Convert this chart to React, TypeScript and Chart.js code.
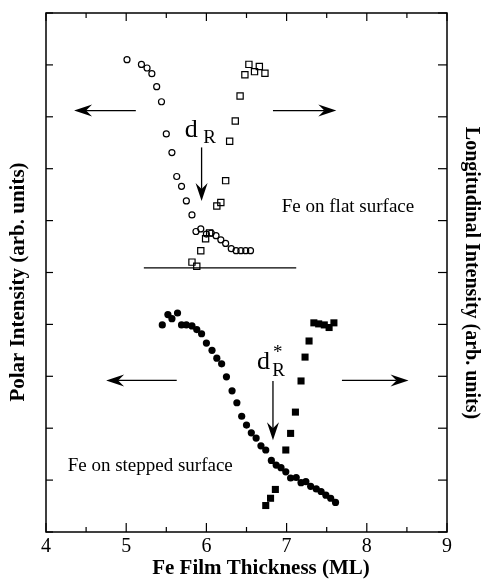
import React, { useEffect, useRef } from 'react';
import { Chart, registerables } from 'chart.js';

Chart.register(...registerables);

// ---- data ----
const xMajorTicks = [4, 5, 6, 7, 8, 9];
const xMinorTicks = [4.5, 5.5, 6.5, 7.5, 8.5];
const yTicks = [0, 1, 2, 3, 4, 5, 6, 7, 8, 9, 10];

// Fe on flat surface, polar intensity (open circles)
const flatPolarX = [5.01, 5.19, 5.26, 5.32, 5.38, 5.44, 5.50, 5.57, 5.63, 5.69, 5.75, 5.82, 5.87, 5.93, 6.00, 6.06, 6.12, 6.18, 6.24, 6.31, 6.37, 6.43, 6.49, 6.55];
const flatPolarY = [9.10, 9.01, 8.94, 8.83, 8.58, 8.29, 7.67, 7.31, 6.85, 6.66, 6.38, 6.11, 5.79, 5.84, 5.74, 5.76, 5.71, 5.63, 5.56, 5.46, 5.42, 5.42, 5.42, 5.42];

// Fe on flat surface, longitudinal intensity (open squares)
const flatLongX = [5.82, 5.88, 5.93, 5.99, 6.04, 6.13, 6.18, 6.24, 6.29, 6.36, 6.42, 6.48, 6.53, 6.60, 6.66, 6.73];
const flatLongY = [5.20, 5.12, 5.42, 5.65, 5.76, 6.28, 6.35, 6.77, 7.53, 7.92, 8.40, 8.81, 9.01, 8.87, 8.97, 8.84];

// baseline for flat surface
const flatBaseX = [5.22, 7.12];
const flatBaseY = [5.09, 5.09];

// Fe on stepped surface, polar intensity (filled circles)
const stepPolarX = [5.45, 5.52, 5.57, 5.64, 5.69, 5.75, 5.82, 5.88, 5.94, 6.00, 6.07, 6.13, 6.19, 6.25, 6.32, 6.38, 6.44, 6.50, 6.56, 6.62, 6.68, 6.74, 6.81, 6.87, 6.93, 6.99, 7.05, 7.12, 7.18, 7.24, 7.30, 7.37, 7.43, 7.49, 7.55, 7.61];
const stepPolarY = [3.99, 4.19, 4.11, 4.22, 3.99, 3.99, 3.97, 3.90, 3.82, 3.64, 3.50, 3.35, 3.24, 2.99, 2.72, 2.49, 2.23, 2.06, 1.91, 1.81, 1.66, 1.58, 1.38, 1.29, 1.24, 1.16, 1.04, 1.05, 0.95, 0.97, 0.88, 0.83, 0.78, 0.71, 0.65, 0.57];

// Fe on stepped surface, longitudinal intensity (filled squares)
const stepLongX = [6.74, 6.80, 6.86, 6.99, 7.05, 7.11, 7.18, 7.23, 7.28, 7.34, 7.40, 7.47, 7.53, 7.59];
const stepLongY = [0.51, 0.65, 0.82, 1.58, 1.90, 2.31, 2.91, 3.37, 3.68, 4.03, 4.01, 3.99, 3.94, 4.03];

const pts = (xs: number[], ys: number[]) => xs.map((x, i) => ({ x, y: ys[i] }));

const SERIF = '"Liberation Serif", "Times New Roman", serif';

function drawArrow(ctx: CanvasRenderingContext2D, x1: number, y1: number, x2: number, y2: number) {
  const ang = Math.atan2(y2 - y1, x2 - x1);
  const L = 18, W = 6, N = 12;
  ctx.beginPath();
  ctx.moveTo(x1, y1);
  ctx.lineTo(x2 - Math.cos(ang) * N, y2 - Math.sin(ang) * N);
  ctx.stroke();
  const cx = Math.cos(ang), sy = Math.sin(ang);
  const bx = x2 - cx * L, by = y2 - sy * L;
  const nx = -sy, ny = cx;
  ctx.beginPath();
  ctx.moveTo(x2, y2);
  ctx.lineTo(bx + nx * W, by + ny * W);
  ctx.lineTo(x2 - cx * N, y2 - sy * N);
  ctx.lineTo(bx - nx * W, by - ny * W);
  ctx.closePath();
  ctx.fill();
}

const decorations = {
  id: 'decorations',
  afterDatasetsDraw(chart: any) {
    const { ctx, chartArea: a, scales } = chart;
    const x = scales.x, y = scales.y;
    const px = (v: number) => x.getPixelForValue(v);
    const py = (v: number) => y.getPixelForValue(v);
    ctx.save();
    ctx.strokeStyle = '#000';
    ctx.fillStyle = '#000';

    // frame
    ctx.lineWidth = 1.5;
    ctx.strokeRect(a.left, a.top, a.right - a.left, a.bottom - a.top);

    // inward ticks
    ctx.lineWidth = 1.2;
    const seg = (x1: number, y1: number, x2: number, y2: number) => {
      ctx.beginPath(); ctx.moveTo(x1, y1); ctx.lineTo(x2, y2); ctx.stroke();
    };
    xMajorTicks.forEach(v => { seg(px(v), a.bottom, px(v), a.bottom - 9); seg(px(v), a.top, px(v), a.top + 8); });
    xMinorTicks.forEach(v => { seg(px(v), a.bottom, px(v), a.bottom - 5); seg(px(v), a.top, px(v), a.top + 5); });
    yTicks.forEach(v => { seg(a.left, py(v), a.left + 7, py(v)); seg(a.right, py(v), a.right - 9, py(v)); });

    // arrows
    ctx.lineWidth = 1.3;
    drawArrow(ctx, px(5.12), py(8.12), px(4.35), py(8.12));
    drawArrow(ctx, px(6.83), py(8.12), px(7.62), py(8.12));
    drawArrow(ctx, px(5.94), py(7.41), px(5.94), py(6.38));
    drawArrow(ctx, px(5.63), py(2.92), px(4.75), py(2.92));
    drawArrow(ctx, px(7.69), py(2.92), px(8.52), py(2.92));
    drawArrow(ctx, px(6.83), py(2.91), px(6.83), py(1.77));

    // texts
    ctx.textBaseline = 'alphabetic';
    ctx.textAlign = 'left';
    ctx.font = `26px ${SERIF}`;
    ctx.fillText('d', px(5.73), py(7.62));
    ctx.fillText('d', px(6.63), py(3.15));
    ctx.font = `19px ${SERIF}`;
    ctx.fillText('R', px(5.96), py(7.50));
    ctx.fillText('R', px(6.82), py(3.0));
    ctx.fillText('*', px(6.83), py(3.35));
    ctx.fillText('Fe on flat surface', px(6.94), py(6.17));
    ctx.fillText('Fe on stepped surface', px(4.27), py(1.18));

    // axis titles
    ctx.textAlign = 'center';
    ctx.textBaseline = 'middle';
    ctx.font = `bold 21px ${SERIF}`;
    ctx.fillText('Fe Film Thickness (ML)', 261, 569);
    ctx.save();
    ctx.translate(19, 282);
    ctx.rotate(-Math.PI / 2);
    ctx.fillText('Polar Intensity (arb. units)', 0, 0);
    ctx.restore();
    ctx.font = `bold 20px ${SERIF}`;
    ctx.save();
    ctx.translate(471, 273);
    ctx.rotate(Math.PI / 2);
    ctx.fillText('Longitudinal Intensity (arb. units)', 0, 0);
    ctx.restore();

    ctx.restore();
  },
};

export default function App() {
  const ref = useRef<HTMLCanvasElement | null>(null);
  useEffect(() => {
    document.body.style.margin = '0';
    const canvas = ref.current;
    if (!canvas) return;
    const chart = new Chart(canvas, {
      type: 'scatter',
      data: {
        datasets: [
          {
            label: 'flat polar',
            data: pts(flatPolarX, flatPolarY),
            pointStyle: 'circle',
            pointRadius: 3,
            pointBorderWidth: 1.2,
            pointBorderColor: '#000',
            pointBackgroundColor: 'rgba(255,255,255,0)',
            yAxisID: 'y',
          },
          {
            label: 'flat longitudinal',
            data: pts(flatLongX, flatLongY),
            pointStyle: 'rect',
            pointRadius: 4.4,
            pointBorderWidth: 1.2,
            pointBorderColor: '#000',
            pointBackgroundColor: 'rgba(255,255,255,0)',
            yAxisID: 'y2',
          },
          {
            label: 'flat baseline',
            data: pts(flatBaseX, flatBaseY),
            showLine: true,
            pointRadius: 0,
            borderColor: '#000',
            borderWidth: 1.2,
            yAxisID: 'y',
          },
          {
            label: 'stepped polar',
            data: pts(stepPolarX, stepPolarY),
            pointStyle: 'circle',
            pointRadius: 3.6,
            pointBorderWidth: 0,
            pointBackgroundColor: '#000',
            yAxisID: 'y',
          },
          {
            label: 'stepped longitudinal',
            data: pts(stepLongX, stepLongY),
            pointStyle: 'rect',
            pointRadius: 5,
            pointBorderWidth: 0,
            pointBackgroundColor: '#000',
            yAxisID: 'y2',
          },
        ],
      },
      options: {
        responsive: false,
        animation: false,
        events: [],
        layout: { padding: { top: 13, left: 0, right: 0, bottom: 0 } },
        plugins: { legend: { display: false }, tooltip: { enabled: false } },
        scales: {
          x: {
            type: 'linear',
            min: 4,
            max: 9,
            afterFit: (s: any) => { s.height = 49; },
            afterBuildTicks: (s: any) => { s.ticks = xMajorTicks.map(v => ({ value: v })); },
            grid: { display: false, drawTicks: false, tickLength: 0 },
            border: { display: false },
            ticks: { color: '#000', font: { family: SERIF, size: 20 }, padding: 3, maxRotation: 0 },
            title: { display: false },
          },
          y: {
            type: 'linear',
            position: 'left',
            min: 0,
            max: 10,
            afterFit: (s: any) => { s.width = 46; },
            grid: { display: false, drawTicks: false },
            border: { display: false },
            ticks: { display: false },
          },
          y2: {
            type: 'linear',
            position: 'right',
            min: 0,
            max: 10,
            afterFit: (s: any) => { s.width = 37; },
            grid: { display: false, drawTicks: false },
            border: { display: false },
            ticks: { display: false },
          },
        },
      },
      plugins: [decorations],
    });
    return () => chart.destroy();
  }, []);
  return <canvas ref={ref} width={484} height={581} style={{ display: 'block' }} />;
}
